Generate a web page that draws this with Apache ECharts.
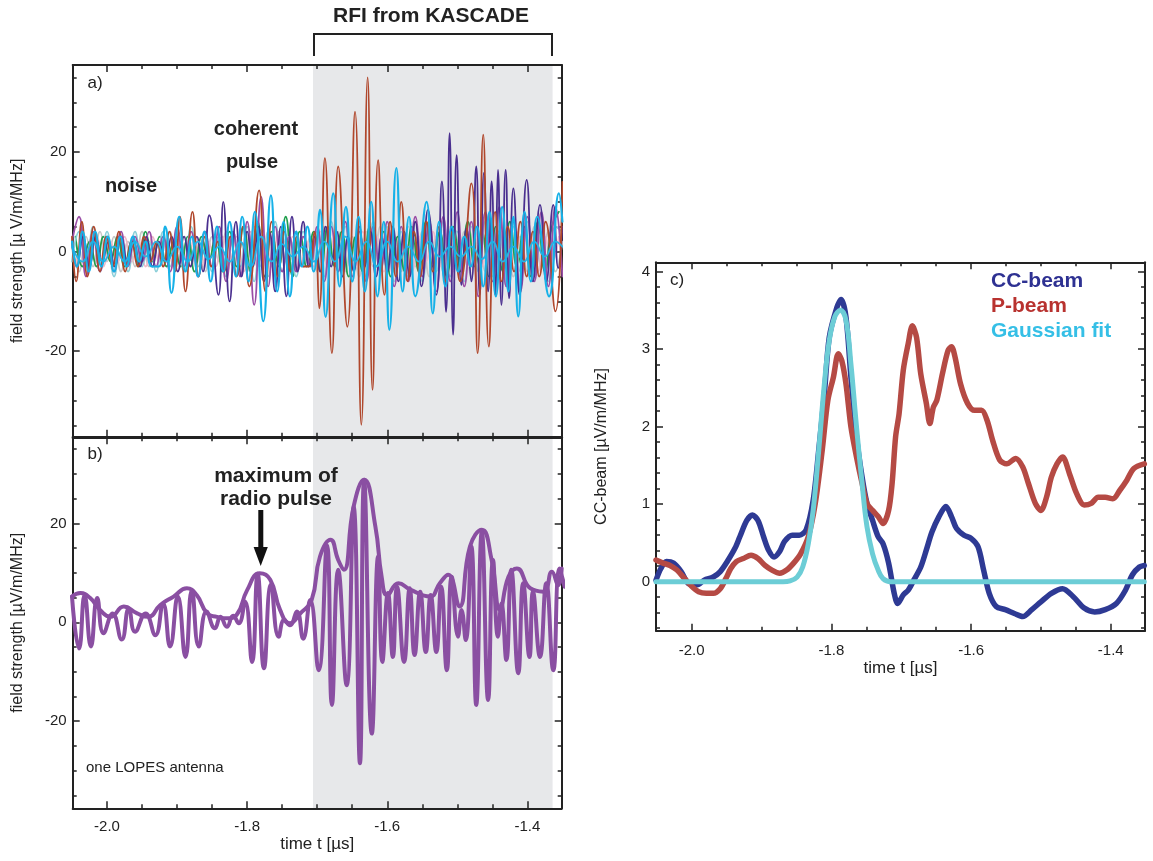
<!DOCTYPE html>
<html>
<head>
<meta charset="utf-8">
<script src="https://cdn.jsdelivr.net/npm/echarts@6/dist/echarts.min.js"></script>
<style>
  html, body { margin: 0; padding: 0; background: #fff; }
  #chart { width: 1153px; height: 861px; }
</style>
</head>
<body>
<div id="chart"></div>
<script>
// ---- data (time in µs) ----
const T_STEP_A = [
  -2.05,-2.04,-2.03,-2.02,-2.01,-2.00,-1.99,-1.98,-1.97,-1.96,
  -1.95,-1.94,-1.93,-1.92,-1.91,-1.90,-1.89,-1.88,-1.87,-1.86,
  -1.85,-1.84,-1.83,-1.82,-1.81,-1.80,-1.79,-1.78,-1.77,-1.76,
  -1.75,-1.74,-1.73,-1.72,-1.71,-1.70,-1.69,-1.68,-1.67,-1.66,
  -1.65,-1.64,-1.63,-1.62,-1.61,-1.60,-1.59,-1.58,-1.57,-1.56,
  -1.55,-1.54,-1.53,-1.52,-1.51,-1.50,-1.49,-1.48,-1.47,-1.46,
  -1.45,-1.44,-1.43,-1.42,-1.41,-1.40,-1.39,-1.38,-1.37,-1.36,
  -1.35
]
const T_STEP_B = [
  -2.045,-2.035,-2.025,-2.015,-2.005,-1.995,-1.985,-1.975,-1.965,-1.955,
  -1.945,-1.935,-1.925,-1.915,-1.905,-1.895,-1.885,-1.875,-1.865,-1.855,
  -1.845,-1.835,-1.825,-1.815,-1.805,-1.795,-1.785,-1.775,-1.765,-1.755,
  -1.745,-1.735,-1.725,-1.715,-1.705,-1.695,-1.685,-1.675,-1.665,-1.655,
  -1.645,-1.635,-1.625,-1.615,-1.605,-1.595,-1.585,-1.575,-1.565,-1.555,
  -1.545,-1.535,-1.525,-1.515,-1.505,-1.495,-1.485,-1.475,-1.465,-1.455,
  -1.445,-1.435,-1.425,-1.415,-1.405,-1.395,-1.385,-1.375,-1.365,-1.355
]

// panel a: all antennas (µV/m/MHz)
const magentaA = [
  2,7,-5,4,-4,3,-4,4,-3,3,
  -2,4,-3,3,-4,5,-3,4,-5,4,
  -3,5,-6,4,-5,6,-10.7,11,-7,5,
  -4,3,-4,3,-3,5,-6,5,-4,6,
  -5,4,-6,5,-4,6,-7,5,-6,7,
  -5,6,-8,7,-6,8,-7,6,-9,8,
  -6,9,-7,6,-8,7,-6,8,-7,9,
  -5
]
const lightCyanA = [
  -2,4,-3,5,-4,4,-5,3,-4,4,
  -3,2,-4,4,-3,3,-4,5,-3,4,
  -4,3,-5,4,-3,5,-6,4,-5,6,
  -4,3,-5,4,-3,4,-5,6,-4,5,
  -6,4,-5,6,-4,5,-6,4,-5,3,
  -6,5,-4,6,-5,4,-6,5,-4,6,
  -5,4,-7,5,-4,6,-5,4,-6,5,
  4
]
const greyA = [
  3,-4,3,-3,4,-2,3,-4,2,-3,
  4,-3,2,-3,4,-2,3,-3,2,-4,
  3,-2,4,-3,2,-4,5,-3,4,-5,
  3,-2,4,-3,3,-4,5,-3,4,-4,
  3,-5,4,-3,5,-4,3,-4,5,-3,
  4,-5,3,-4,5,-3,4,-5,3,-4,
  5,-3,4,-5,3,-4,5,-3,4,-4,
  2
]
const greenB = [
  3,-3,2,-3,3,-2,3,-3,2,-3,
  4,-2,3,-3,2,-3,3,-4,3,-2,
  3,-4,4,-3,5,-4,6,-5,4,-3,
  7,-5,4,-3,4,-4,5,-3,4,-5,
  3,-4,5,-3,4,-5,3,-4,5,-4,
  6,-3,4,-5,5,-4,6,-3,4,-5,
  5,-4,6,-3,5,-5,6,-4,5,8
]
const pinkB = [
  -3,2,-2,3,-3,2,-2,3,-2,2,
  -3,3,-2,2,-3,2,-2,3,-3,2,
  -3,3,-2,3,-4,4,-3,2,-3,4,
  -2,3,-3,2,-3,4,-3,3,-4,2,
  -3,4,-2,3,-4,3,-3,2,-4,3,
  -2,4,-3,3,-4,2,-3,4,-3,3,
  -4,2,-3,4,-2,3,-4,3,-2,3
]
const brownTrace = [
  [-2.050,3],[-2.044,-6],[-2.036,6],[-2.028,-5],[-2.019,5],[-2.010,-4],[-2.001,3],[-1.992,-3],
  [-1.983,4],[-1.974,-4],[-1.965,2],[-1.956,-3],[-1.947,3],[-1.938,-2],[-1.929,2],[-1.920,-3],
  [-1.911,4],[-1.903,-4],[-1.896,7],[-1.888,-8],[-1.878,8],[-1.869,-5],[-1.860,3],[-1.851,-3],
  [-1.842,2],[-1.833,-4],[-1.824,3],[-1.815,-5],[-1.806,5],[-1.797,-7],[-1.783,12.3],[-1.774,-8],
  [-1.765,6],[-1.756,-5],[-1.747,4],[-1.738,-4],[-1.729,3],[-1.720,-3],[-1.712,-3],[-1.704,4],
  [-1.697,-11.4],[-1.689,18.8],[-1.679,-20.4],[-1.670,17.1],[-1.657,-15.1],[-1.646,28.1],[-1.637,-34.8],[-1.628,35],
  [-1.621,-27.8],[-1.613,18.4],[-1.604,-8.7],[-1.596,6],[-1.588,-5],[-1.580,10],[-1.571,-6],[-1.562,4],
  [-1.553,-5],[-1.544,6],[-1.535,-4],[-1.526,5],[-1.517,-6],[-1.507,4],[-1.496,-6],[-1.480,13.7],
  [-1.471,-20.4],[-1.463,23.5],[-1.455,-19.1],[-1.446,8],[-1.437,-6],[-1.428,5],[-1.419,-4],[-1.410,6],
  [-1.401,-5],[-1.392,4],[-1.383,-5],[-1.374,6],[-1.360,-12],[-1.350,14]
]
const darkTrace = [
  [-2.050,2],[-2.043,-3],[-2.034,3],[-2.025,-3],[-2.016,3],[-2.007,-2],[-1.998,2],[-1.989,-3],
  [-1.980,3],[-1.971,-2],[-1.962,2],[-1.953,-3],[-1.944,3],[-1.935,-3],[-1.926,2],[-1.917,-2],
  [-1.908,3],[-1.899,-4],[-1.890,3],[-1.881,-3],[-1.872,3],[-1.863,-4],[-1.854,7.3],[-1.841,-8.7],
  [-1.834,10],[-1.825,-10],[-1.816,6],[-1.808,-5],[-1.800,4],[-1.792,-3],[-1.784,5],[-1.776,-6],
  [-1.768,4],[-1.760,-8],[-1.752,5],[-1.744,-9],[-1.736,7],[-1.728,-4],[-1.720,6],[-1.712,-3],
  [-1.704,3],[-1.696,-4],[-1.688,5],[-1.680,-3],[-1.672,4],[-1.664,-5],[-1.656,3],[-1.648,-4],
  [-1.640,5],[-1.632,-3],[-1.624,4],[-1.616,-5],[-1.608,3],[-1.600,-4],[-1.592,5],[-1.584,-6],
  [-1.576,4],[-1.568,-5],[-1.560,6],[-1.551,-7],[-1.542,8.4],[-1.530,-8.7],[-1.522,14.1],[-1.516,-12.1],
  [-1.511,23.8],[-1.506,-16.7],[-1.501,19.4],[-1.494,-6.7],[-1.487,4.7],[-1.480,-6],[-1.473,17.1],[-1.468,-8.7],
  [-1.462,15.8],[-1.456,-8],[-1.451,14.1],[-1.446,-8.7],[-1.442,16.4],[-1.437,-10.7],[-1.431,16.4],[-1.426,-9.4],
  [-1.420,12.7],[-1.411,-8.7],[-1.401,14.4],[-1.392,-6],[-1.382,9.4],[-1.373,-6],[-1.363,9.4],[-1.356,-3.3],
  [-1.350,5]
]
const cyanTrace = [
  [-2.050,2],[-2.043,-3],[-2.035,4],[-2.026,-4],[-2.017,4],[-2.008,-3],[-1.999,3],[-1.990,-4],
  [-1.981,3],[-1.972,-3],[-1.963,3],[-1.954,-2],[-1.945,2],[-1.936,-3],[-1.926,-3],[-1.917,5],
  [-1.908,-8.3],[-1.897,7],[-1.888,-4],[-1.879,3],[-1.870,-5],[-1.861,4],[-1.852,-6],[-1.843,5],
  [-1.834,-4],[-1.825,6],[-1.816,-5],[-1.807,7],[-1.798,-6],[-1.789,8],[-1.777,-14],[-1.766,11.3],
  [-1.757,-8],[-1.748,6],[-1.739,-9],[-1.730,4],[-1.722,-3],[-1.714,5],[-1.705,-4],[-1.696,8.4],
  [-1.688,-13.1],[-1.677,11.7],[-1.668,-7],[-1.659,9],[-1.650,-6],[-1.641,7],[-1.632,-8],[-1.623,10],
  [-1.614,-9],[-1.605,6],[-1.597,-15.7],[-1.587,16.8],[-1.578,-8],[-1.569,7],[-1.560,-9],[-1.544,10],
  [-1.535,-12.4],[-1.526,6],[-1.517,-7],[-1.508,5],[-1.499,-4],[-1.490,3],[-1.481,-3],[-1.472,5],
  [-1.463,-7],[-1.454,8],[-1.445,-9],[-1.436,9],[-1.427,-8],[-1.420,7],[-1.413,-13],[-1.404,8],
  [-1.395,-6],[-1.386,7],[-1.369,-9],[-1.355,11.7],[-1.350,6]
]
const cyanSlow = [
  [-2.050,1],[-2.035,-2],[-2.020,2],[-2.005,-2],[-1.990,1],[-1.975,-2],[-1.960,2],[-1.945,-1],
  [-1.930,2],[-1.915,-2],[-1.900,1],[-1.885,-2],[-1.870,2],[-1.855,-1.5],[-1.840,1],[-1.825,-2],
  [-1.810,2],[-1.795,-3],[-1.780,3],[-1.765,-2],[-1.750,1.5],[-1.735,-1],[-1.720,1],[-1.705,-2],
  [-1.690,2],[-1.675,-2],[-1.660,3],[-1.645,-2],[-1.630,2],[-1.615,-3],[-1.600,2],[-1.585,-2],
  [-1.570,1],[-1.555,-2],[-1.540,2],[-1.525,-1],[-1.510,1],[-1.495,-1],[-1.480,1],[-1.465,-1.5],
  [-1.450,2],[-1.435,-2],[-1.420,1],[-1.405,-2],[-1.390,2],[-1.375,-1],[-1.360,2],[-1.350,1]
]

// panel b: one LOPES antenna, trace and envelope
const lopesTrace = [
  [-2.050,5.2],[-2.040,-5.3],[-2.032,5.5],[-2.023,-4.9],[-2.014,4.9],[-2.005,-2.2],[-1.992,1.8],[-1.979,-3.5],
  [-1.969,2.8],[-1.960,-1.9],[-1.945,1.8],[-1.931,-2.6],[-1.920,3.8],[-1.910,-4.9],[-1.899,5.2],[-1.888,-7.0],
  [-1.879,6.5],[-1.869,-4.9],[-1.858,2.2],[-1.846,-1.2],[-1.838,1.1],[-1.829,-0.9],[-1.820,1.3],[-1.812,-0.2],
  [-1.803,4.2],[-1.793,-8.0],[-1.785,9.8],[-1.776,-9.3],[-1.766,7.6],[-1.755,-2.9],[-1.747,0.5],[-1.739,-0.6],
  [-1.729,2.2],[-1.720,-3.3],[-1.710,4.5],[-1.698,-9.7],[-1.686,15.6],[-1.679,-16.7],[-1.670,10.6],[-1.658,-12.7],
  [-1.648,23.4],[-1.639,-28.5],[-1.633,28.8],[-1.622,-22.5],[-1.613,13.3],[-1.607,-8.0],[-1.599,5.9],[-1.592,-7.0],
  [-1.586,7.2],[-1.576,-8.0],[-1.568,6.9],[-1.561,-6.6],[-1.553,6.2],[-1.545,-6.0],[-1.538,5.5],[-1.530,-6.0],
  [-1.523,7.2],[-1.515,-9.7],[-1.508,9.2],[-1.499,-2.9],[-1.494,2.5],[-1.488,-3.6],[-1.480,15.3],[-1.473,-16.7],
  [-1.465,18.3],[-1.456,-15.7],[-1.449,12.6],[-1.442,-2.9],[-1.437,3.8],[-1.430,-7.6],[-1.423,10.6],[-1.413,-10.3],
  [-1.406,7.9],[-1.397,-7.0],[-1.392,6.2],[-1.382,-7.0],[-1.373,7.9],[-1.363,-9.7],[-1.354,10.9],[-1.347,7.2]
]
const lopesEnvelope = [
  [-2.050,5.2],[-2.038,5.9],[-2.024,4.9],[-2.010,2.5],[-1.995,1.1],[-1.976,3.2],[-1.957,1.8],[-1.941,1.1],
  [-1.924,3.5],[-1.905,5.2],[-1.886,6.9],[-1.872,5.5],[-1.857,1.8],[-1.843,1.1],[-1.829,0.8],[-1.815,1.5],
  [-1.800,6.5],[-1.782,9.9],[-1.767,8.6],[-1.753,2.5],[-1.739,-0.2],[-1.724,1.8],[-1.708,4.5],[-1.696,13.3],
  [-1.681,16.7],[-1.670,12.6],[-1.662,10.6],[-1.648,23.4],[-1.633,28.8],[-1.617,19.4],[-1.608,9.2],[-1.600,5.5],
  [-1.584,7.9],[-1.567,6.6],[-1.539,5.2],[-1.525,7.9],[-1.513,9.6],[-1.497,3.2],[-1.482,15.3],[-1.465,18.7],
  [-1.451,12.6],[-1.439,2.5],[-1.427,9.2],[-1.415,10.9],[-1.396,6.9],[-1.377,6.2],[-1.365,10.2],[-1.356,7.5],
  [-1.351,10.9]
]

// panel c: beams
const ccBeam = [
  [-2.051,0.02],[-2.044,0.17],[-2.036,0.26],[-2.026,0.24],[-2.015,0.13],[-2.005,-0.02],[-1.992,-0.04],[-1.982,0.02],
  [-1.969,0.06],[-1.959,0.13],[-1.949,0.26],[-1.938,0.43],[-1.931,0.58],[-1.921,0.79],[-1.913,0.86],[-1.905,0.79],
  [-1.897,0.58],[-1.890,0.41],[-1.882,0.32],[-1.874,0.39],[-1.867,0.52],[-1.856,0.60],[-1.846,0.60],[-1.836,0.67],
  [-1.826,1.05],[-1.818,1.70],[-1.810,2.42],[-1.803,3.15],[-1.792,3.54],[-1.786,3.64],[-1.779,3.41],[-1.772,2.64],
  [-1.764,1.87],[-1.756,1.35],[-1.749,1.01],[-1.741,0.79],[-1.733,0.58],[-1.726,0.49],[-1.718,0.24],[-1.710,-0.15],
  [-1.705,-0.28],[-1.697,-0.17],[-1.690,-0.11],[-1.682,0.02],[-1.672,0.19],[-1.664,0.41],[-1.656,0.64],[-1.646,0.84],
  [-1.636,0.97],[-1.628,0.84],[-1.621,0.69],[-1.610,0.60],[-1.600,0.56],[-1.590,0.45],[-1.582,0.15],[-1.574,-0.15],
  [-1.564,-0.32],[-1.551,-0.36],[-1.538,-0.41],[-1.526,-0.45],[-1.513,-0.36],[-1.500,-0.26],[-1.485,-0.15],[-1.469,-0.09],
  [-1.454,-0.19],[-1.438,-0.34],[-1.423,-0.39],[-1.408,-0.36],[-1.392,-0.28],[-1.379,-0.11],[-1.369,0.09],[-1.359,0.19],
  [-1.352,0.21]
]
const pBeam = [
  [-2.051,0.28],[-2.041,0.24],[-2.031,0.21],[-2.021,0.15],[-2.010,0.04],[-2.000,-0.06],[-1.990,-0.13],[-1.979,-0.15],
  [-1.969,-0.15],[-1.959,-0.09],[-1.951,0.04],[-1.944,0.17],[-1.936,0.26],[-1.926,0.30],[-1.915,0.34],[-1.905,0.30],
  [-1.895,0.21],[-1.885,0.15],[-1.874,0.11],[-1.864,0.15],[-1.854,0.24],[-1.844,0.36],[-1.833,0.58],[-1.823,1.01],
  [-1.813,1.70],[-1.805,2.34],[-1.797,2.64],[-1.790,2.94],[-1.785,2.85],[-1.779,2.55],[-1.772,2.00],[-1.764,1.61],
  [-1.756,1.27],[-1.749,1.01],[-1.741,0.92],[-1.733,0.84],[-1.726,0.75],[-1.718,0.92],[-1.713,1.27],[-1.708,1.87],
  [-1.703,2.17],[-1.697,2.73],[-1.690,3.07],[-1.684,3.30],[-1.678,3.15],[-1.672,2.68],[-1.664,2.30],[-1.659,2.04],
  [-1.654,2.25],[-1.649,2.34],[-1.641,2.68],[-1.633,2.98],[-1.628,3.03],[-1.623,2.90],[-1.615,2.55],[-1.605,2.30],
  [-1.595,2.21],[-1.585,2.21],[-1.577,2.08],[-1.569,1.82],[-1.559,1.57],[-1.549,1.52],[-1.536,1.59],[-1.526,1.48],
  [-1.518,1.27],[-1.508,1.01],[-1.500,0.92],[-1.492,1.09],[-1.485,1.35],[-1.477,1.52],[-1.469,1.61],[-1.459,1.39],
  [-1.449,1.14],[-1.438,0.99],[-1.428,1.01],[-1.418,1.09],[-1.408,1.09],[-1.397,1.07],[-1.387,1.18],[-1.377,1.31],
  [-1.367,1.46],[-1.352,1.52]
]
const gaussFit = [
  [-2.051,0],[-1.926,0],[-1.869,0],[-1.859,0.01],[-1.849,0.06],[-1.841,0.19],[-1.833,0.49],[-1.826,0.92],
  [-1.818,1.70],[-1.810,2.55],[-1.803,3.11],[-1.795,3.42],[-1.787,3.50],[-1.779,3.37],[-1.772,2.81],[-1.764,2.00],
  [-1.756,1.27],[-1.749,0.71],[-1.741,0.36],[-1.733,0.15],[-1.726,0.04],[-1.715,0],[-1.633,0],[-1.352,0]
]

// axes
const T_RANGE = [-2.049, -1.351]
const T_RANGE_C = [-2.051, -1.351]
const T_MAJOR = [-2.0, -1.8, -1.6, -1.4]
const T_MINOR = [-1.95, -1.9, -1.85, -1.75, -1.7, -1.65, -1.55, -1.5, -1.45]
const E_MAJOR = [-20, 0, 20]
const E_MINOR = [-35, -30, -25, -15, -10, -5, 5, 10, 15, 25, 30, 35]
const C_MAJOR = [0, 1, 2, 3, 4]
const C_MINOR = [-0.6, -0.4, -0.2, 0.2, 0.4, 0.6, 0.8, 1.2, 1.4, 1.6, 1.8, 2.2, 2.4, 2.6, 2.8, 3.2, 3.4, 3.6, 3.8]
const RFI_SPAN = [-1.706, -1.364]

const INK = '#222'
const FONT = '"Liberation Sans", Arial, sans-serif'

function frameAxes(dim, gridIndex, range, majors, minors, label) {
  const sides = dim === 'x' ? ['bottom', 'top'] : ['left', 'right']
  const list = []
  sides.forEach((side, s) => {
    [majors, minors].forEach((ticks, k) => {
      const main = s === 0 && k === 0 && label
      list.push({
        type: 'value', gridIndex, position: side, min: range[0], max: range[1],
        axisLine: { show: k === 0, onZero: false, lineStyle: { color: INK, width: 2 } },
        axisTick: { show: true, inside: true, length: k === 0 ? 7 : 4, customValues: ticks, lineStyle: { color: INK, width: 1.5 } },
        axisLabel: main
          ? { show: true, customValues: majors, formatter: label.fmt, margin: label.margin, fontSize: 15, color: INK, fontFamily: FONT }
          : { show: false },
        splitLine: { show: false },
        name: main && label.name ? label.name : '',
        nameLocation: 'middle', nameGap: main ? label.gap : 0,
        nameTextStyle: { fontSize: main ? label.nameSize : 12, color: INK, fontFamily: FONT }
      })
    })
  })
  return list
}

const fmtT = v => v.toFixed(1)
const fmtI = v => String(Math.round(v))

const xAxis = [
  ...frameAxes('x', 0, T_RANGE, T_MAJOR, T_MINOR, null),
  ...frameAxes('x', 1, T_RANGE, T_MAJOR, T_MINOR, { fmt: fmtT, margin: 11, name: 'time t [µs]', gap: 28, nameSize: 17 }),
  ...frameAxes('x', 2, T_RANGE_C, T_MAJOR, T_MINOR, { fmt: fmtT, margin: 13, name: 'time t [µs]', gap: 29, nameSize: 17 })
]
const yAxis = [
  ...frameAxes('y', 0, [-37.2, 37.5], E_MAJOR, E_MINOR, { fmt: fmtI, margin: 6, name: 'field strength [µ V/m/MHz]', gap: 47, nameSize: 16 }),
  ...frameAxes('y', 1, [-37.6, 37.4], E_MAJOR, E_MINOR, { fmt: fmtI, margin: 6, name: 'field strength [µV/m/MHz]', gap: 47, nameSize: 16 }),
  ...frameAxes('y', 2, [-0.632, 4.12], C_MAJOR, C_MINOR, { fmt: fmtI, margin: 6, name: 'CC-beam [µV/m/MHz]', gap: 46, nameSize: 16 })
]

function line(panel, data, color, width, smooth, z) {
  return {
    type: 'line', xAxisIndex: panel * 4, yAxisIndex: panel * 4, data,
    showSymbol: false, symbol: 'none', smooth, z: z || 2,
    lineStyle: { color, width, join: 'round', cap: 'round' }
  }
}
const onGrid = (ts, vs) => ts.map((t, i) => [t, vs[i]])

function shade(panel) {
  return {
    type: 'line', xAxisIndex: panel * 4, yAxisIndex: panel * 4, data: [[RFI_SPAN[0], 0]],
    showSymbol: false, lineStyle: { opacity: 0 }, z: 1,
    markArea: { silent: true, z: 0, itemStyle: { color: '#e7e8ea' }, data: [[{ xAxis: RFI_SPAN[0] }, { xAxis: RFI_SPAN[1] }]] }
  }
}

const series = [
  shade(0),
  line(0, onGrid(T_STEP_A, greyA), '#c6c6c6', 1.8, 0.5),
  line(0, onGrid(T_STEP_B, pinkB), '#efb9c9', 1.8, 0.5),
  line(0, onGrid(T_STEP_B, greenB), '#1f9e4c', 1.8, 0.5),
  line(0, onGrid(T_STEP_A, lightCyanA), '#8ccfd9', 1.8, 0.5),
  line(0, onGrid(T_STEP_A, magentaA), '#9a4ea6', 1.8, 0.5),
  line(0, darkTrace, '#4a2f8f', 1.8, 0.5),
  line(0, brownTrace, '#b0472c', 1.8, 0.5),
  line(0, cyanSlow, '#29b3e3', 1.8, 0.5),
  line(0, cyanTrace, '#16b1e8', 2.2, 0.5),
  shade(1),
  line(1, lopesEnvelope, '#8a4fa2', 4, 0.5),
  line(1, lopesTrace, '#8a4fa2', 4, 0.5),
  line(2, ccBeam, '#2e3a94', 5.5, 0.3),
  line(2, pBeam, '#b54a44', 5.5, 0.3),
  line(2, gaussFit, '#6ccdd6', 5, 0.4)
]

function label(text, x, y, size, bold, color, align) {
  return {
    type: 'text', x, y, z: 100,
    style: { text, font: (bold ? 'bold ' : '') + size + 'px ' + FONT, fill: color || INK, align: align || 'center', verticalAlign: 'middle' }
  }
}

const graphic = [
  label('RFI from KASCADE', 431, 16, 21, true),
  { type: 'polyline', z: 100, shape: { points: [[314, 56], [314, 34], [552, 34], [552, 56]] }, style: { stroke: INK, lineWidth: 2, fill: null } },
  label('a)', 95, 83, 17, false),
  label('noise', 131, 186, 20, true),
  label('coherent', 256, 129, 20, true),
  label('pulse', 252, 162, 20, true),
  label('b)', 95, 454, 17, false),
  label('maximum of', 276, 476, 21, true),
  label('radio pulse', 276, 499, 21, true),
  { type: 'rect', z: 100, shape: { x: 258.3, y: 510, width: 5, height: 40 }, style: { fill: '#111' } },
  { type: 'polygon', z: 100, shape: { points: [[253.6, 547], [267.8, 547], [260.7, 566]] }, style: { fill: '#111' } },
  label('one LOPES antenna', 86, 768, 15, false, INK, 'left'),
  label('c)', 677, 280, 17, false),
  label('CC-beam', 991, 281, 21, true, '#2e3192', 'left'),
  label('P-beam', 991, 306, 21, true, '#b8322f', 'left'),
  label('Gaussian fit', 991, 331, 21, true, '#35bfe6', 'left')
]

const chart = echarts.init(document.getElementById('chart'))
chart.setOption({
  animation: false,
  backgroundColor: '#fff',
  grid: [
    { left: 72.7, top: 65, width: 489, height: 371.7 },
    { left: 72.7, top: 437.3, width: 489, height: 371 },
    { left: 656, top: 262.3, width: 489, height: 368.4 }
  ],
  xAxis, yAxis, series, graphic
})
</script>
</body>
</html>
